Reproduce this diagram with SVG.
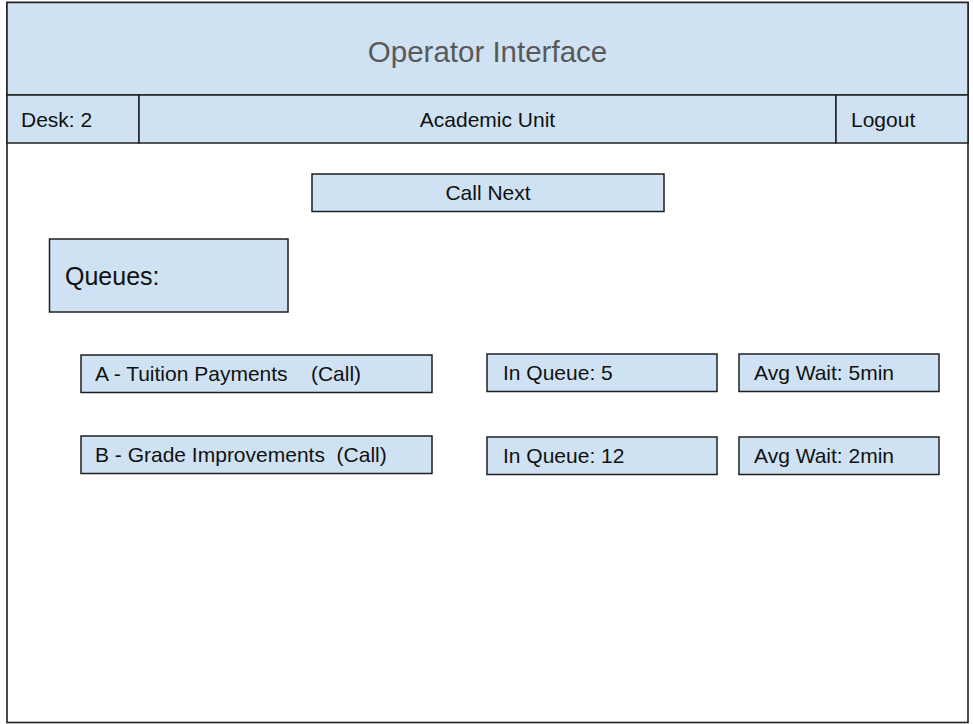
<svg xmlns="http://www.w3.org/2000/svg" width="973" height="724" viewBox="0 0 973 724">
  <style>
    .box { fill: #cfe2f3; stroke: #1f1f1f; stroke-width: 1.5; }
    .frame { fill: #ffffff; stroke: #1f1f1f; stroke-width: 1.6; }
    .lbl { font-family: "Liberation Sans", Arial, sans-serif; font-size: 21px; fill: #111111; white-space: pre; }
    .title { font-family: "Liberation Sans", Arial, sans-serif; font-size: 29.5px; fill: #595959; }
    .big { font-family: "Liberation Sans", Arial, sans-serif; font-size: 25px; fill: #111111; }
  </style>

  <!-- page frame -->
  <g id="frame">
    <rect class="frame" x="7" y="2.5" width="961" height="720"/>
  </g>

  <!-- title bar -->
  <g id="header">
    <rect class="box" x="7" y="2.5" width="961" height="92.5"/>
    <text class="title" x="487.5" y="62" text-anchor="middle">Operator Interface</text>
  </g>

  <!-- navigation bar -->
  <g id="desk">
    <rect class="box" x="7" y="95" width="132" height="48"/>
    <text class="lbl" x="21" y="127">Desk: 2</text>
  </g>
  <g id="unit">
    <rect class="box" x="139" y="95" width="697" height="48"/>
    <text class="lbl" x="487.5" y="127" text-anchor="middle">Academic Unit</text>
  </g>
  <g id="logout">
    <rect class="box" x="836" y="95" width="132" height="48"/>
    <text class="lbl" x="851" y="127">Logout</text>
  </g>

  <!-- call next button -->
  <g id="call-next">
    <rect class="box" x="312" y="174" width="352" height="37.5"/>
    <text class="lbl" x="488" y="200" text-anchor="middle">Call Next</text>
  </g>

  <!-- queue list -->
  <g id="queues">
    <rect class="box" x="49.5" y="239" width="238.5" height="73"/>
    <text class="big" x="65" y="285">Queues:</text>
  </g>

  <g id="queue-a">
    <rect class="box" x="81" y="355" width="351" height="37.5"/>
    <text class="lbl" x="95" y="381" xml:space="preserve">A - Tuition Payments    (Call)</text>
  </g>
  <g id="queue-a-count">
    <rect class="box" x="487" y="354" width="230" height="37.5"/>
    <text class="lbl" x="503" y="380">In Queue: 5</text>
  </g>
  <g id="queue-a-wait">
    <rect class="box" x="739" y="354" width="200" height="37.5"/>
    <text class="lbl" x="754" y="380">Avg Wait: 5min</text>
  </g>

  <g id="queue-b">
    <rect class="box" x="81" y="436" width="351" height="37.5"/>
    <text class="lbl" x="95" y="462" xml:space="preserve">B - Grade Improvements  (Call)</text>
  </g>
  <g id="queue-b-count">
    <rect class="box" x="487" y="437" width="230" height="37.5"/>
    <text class="lbl" x="503" y="463">In Queue: 12</text>
  </g>
  <g id="queue-b-wait">
    <rect class="box" x="739" y="437" width="200" height="37.5"/>
    <text class="lbl" x="754" y="463">Avg Wait: 2min</text>
  </g>

  <g id="connectors"/>
</svg>
